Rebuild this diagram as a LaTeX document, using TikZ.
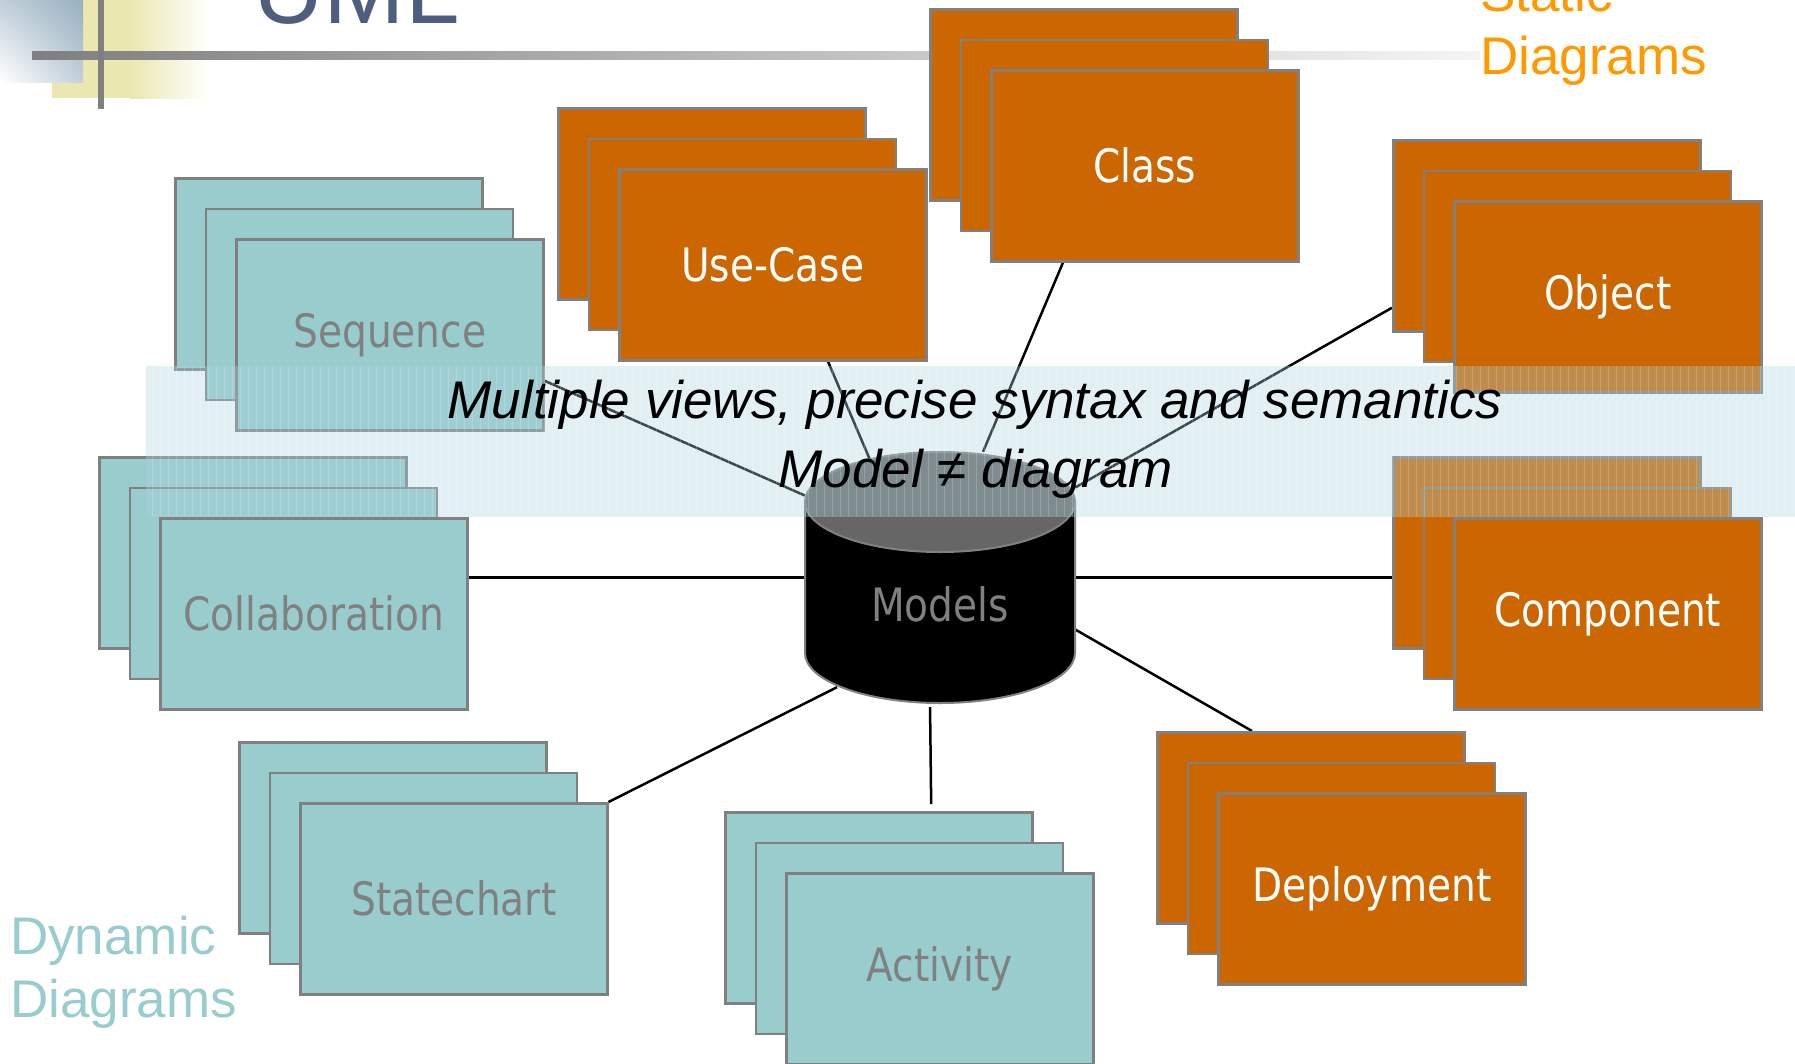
\documentclass[tikz,border=0pt]{standalone}
\usepackage{fontspec}
\setmainfont{Liberation Sans}
\newfontfamily\boxfont[FakeStretch=0.85]{DejaVu Sans}
\usetikzlibrary{shadings}

\definecolor{staticfill}{HTML}{CC6600}
\definecolor{dynfill}{HTML}{99CCCC}
\definecolor{boxline}{HTML}{808080}
\definecolor{labelgray}{HTML}{808080}
\definecolor{statictext}{HTML}{FF9900}
\definecolor{titleblue}{HTML}{4E5E7E}
\definecolor{bandblue}{RGB}{172,212,224}
\definecolor{cornerblue}{HTML}{98B0C0}
\definecolor{corneryellow}{HTML}{EAE8B0}
\definecolor{dbtop}{HTML}{666666}

\pgfdeclarelayer{background}
\pgfsetlayers{background,main}

\begin{document}
\begin{tikzpicture}[x=1pt, y=-1pt,
  diag/.style={draw=boxline, line width=2.5pt, minimum width=307pt, minimum height=191pt,
    anchor=north west, inner sep=0pt, font=\boxfont\fontsize{46}{55}\selectfont},
  static/.style={diag, fill=staticfill, text=white},
  dynamic/.style={diag, fill=dynfill, text=labelgray},
  link/.style={line width=2.5pt, black}]
\useasboundingbox (0,0) rectangle (1795,1063);

% corner decoration and title rule
\fill[corneryellow] (52,0) rectangle (130,98);
\shade[left color=corneryellow, right color=white] (130,0) rectangle (210,98);
\shade[upper right=cornerblue, upper left=cornerblue!60, lower right=cornerblue!60, lower left=white] (0,0) rectangle (83,82);
\shade[left color=gray, right color=gray!8] (32,51) rectangle (1480,59);
\fill[gray] (98,0) rectangle (104,109);
\node[anchor=base west, inner sep=0pt, text=titleblue, font=\fontsize{98}{100}\selectfont] (title) at (253,23) {UML};

% diagram stacks
\foreach \nm/\x/\y/\txt/\kind in {usecase/618/168/Use-Case/static, class/990/69/Class/static,
    object/1453/200/Object/static, component/1453/517/Component/static,
    deployment/1217/792/Deployment/static, sequence/235/238/Sequence/dynamic,
    collab/159/517/Collaboration/dynamic, statechart/299/802/Statechart/dynamic,
    activity/785/872/Activity/dynamic} {
  \node[\kind] (\nm-b) at (\x-61,\y-61) {};
  \node[\kind] (\nm-m) at (\x-30.5,\y-30.5) {};
  \node[\kind] (\nm) at (\x,\y) {\txt};
}

% models cylinder
\fill[black] (805,502) rectangle (1075,653);
\fill[black] (940,653) ellipse [x radius=135, y radius=50];
\draw[boxline, line width=2pt] (805,502) -- (805,653) arc[start angle=180, end angle=0, x radius=135, y radius=50] -- (1075,502);
\filldraw[fill=dbtop, draw=boxline, line width=2pt] (940,502) ellipse [x radius=135, y radius=50];
\node[inner sep=0pt, text width=270pt, align=center, text height=169.5pt, text depth=81.5pt,
  text=labelgray, font=\boxfont\fontsize{46}{55}\selectfont] (models) at (940,577.5) {Models};

% connectors
\begin{pgfonlayer}{background}
\draw[link] ([xshift=73pt]class.south west) -- ([xshift=43pt]models.north);
\draw[link] ([xshift=210pt]usecase.south west) -- ([xshift=-70pt,yshift=-8pt]models.north);
\draw[link] ([yshift=-46pt]sequence.east) -- ([yshift=82pt]models.west);
\draw[link] ([yshift=-72pt]object-b.west) -- ([yshift=90pt]models.east);
\draw[link] (collab.east |- models.west) -- (models.west);
\draw[link] (models.east) -- (models.east -| component-b.west);
\draw[link] ([yshift=-52pt]models.east) -- ([xshift=96pt]deployment-b.north west);
\draw[link, shorten <=4pt, shorten >=7pt] ([xshift=-10pt]models.south) -- ([xshift=52.5pt]activity-b.north);
\draw[link] (statechart.north east) -- ([xshift=-103pt,yshift=16pt]models.south);
\end{pgfonlayer}

% translucent band
\fill[bandblue, opacity=0.35] (146,366) rectangle (1795,517);
\draw[white, opacity=0.18, line width=0.8pt, step=8] (146,366) grid (1795,517);
\node[anchor=base, font=\itshape\fontsize{53}{63}\selectfont] (views) at (975,418) {Multiple views, precise syntax and semantics};
\node[anchor=base, font=\itshape\fontsize{53}{63}\selectfont] (nodiagram) at (976,487) {Model ≠ diagram};

% group captions
\node[anchor=base west, align=left, inner sep=0pt, text=statictext, font=\fontsize{53}{63}\selectfont] (static) at (1480,74) {Static\\Diagrams};
\node[anchor=base west, align=left, inner sep=0pt, text=dynfill, font=\fontsize{53}{63}\selectfont] (dynamic) at (10,1017) {Dynamic\\Diagrams};
\end{tikzpicture}
\end{document}
